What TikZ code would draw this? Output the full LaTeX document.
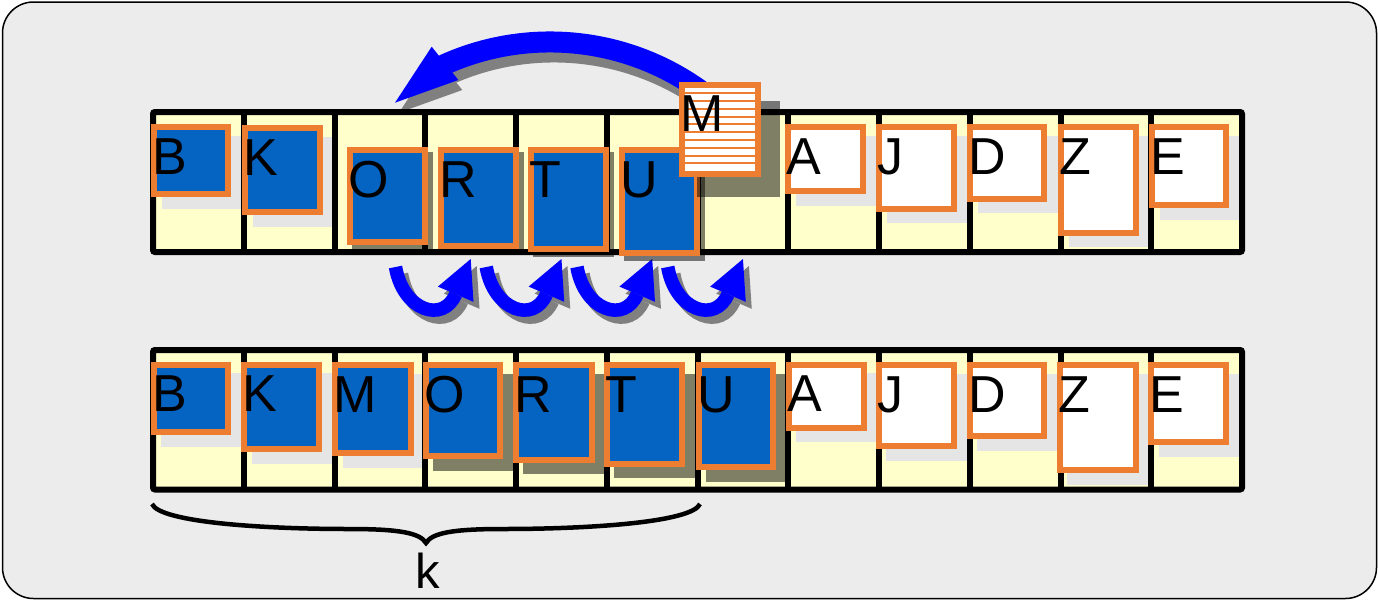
\documentclass[tikz,border=0pt]{standalone}
\usepackage{fontspec}
\setmainfont{Liberation Sans}
\definecolor{bgc}{HTML}{ECECEC}
\definecolor{cellc}{HTML}{FFFFCC}
\definecolor{cardblue}{HTML}{0563C1}
\definecolor{cardorange}{HTML}{ED7D31}
\definecolor{lshadow}{HTML}{E5E5E5}
\definecolor{arrowblue}{HTML}{0000FF}
\definecolor{arrowshadow}{HTML}{808080}
\tikzset{
  cardbox/.style={rectangle, draw=cardorange, line width=6pt, inner sep=0pt, outer sep=0pt},
  bluecard/.style={cardbox, fill=cardblue},
  whitecard/.style={cardbox, fill=white},
  letter/.style={anchor=base west, inner sep=0pt, outer sep=0pt, font=\fontsize{52}{52}\selectfont, text=black},
  lightshadow/.style={fill=lshadow},
  darkshadow/.style={fill=black, fill opacity=0.5},
  gridline/.style={draw=black, line width=6pt},
  cellfill/.style={fill=cellc},
  bigarrowbody/.style={line width=21pt},
  smallarrowbody/.style={line width=13.5pt},
  bracestyle/.style={draw=black, line width=4.5pt},
}
\newcommand\bigarrowshape[1]{%
  \draw[bigarrowbody, #1] (708.8,96.7) .. controls (633.7,38) and (532.6,25.5) .. (445.5,64.1) -- (440.8,67.8);
  \fill[#1] (431.7,46.7) -- (395,102.7) -- (458.3,80) -- cycle;}
\newcommand\smallarrowshape[1]{%
  \draw[smallarrowbody, #1] (395.5,267) .. controls (403.2,311.1) and (443.2,323.6) .. (455.7,294.2);
  \fill[#1] (437.9,286.6) -- (470.7,259) -- (473.5,301.8) -- cycle;}
\def\toprowlist{B/150.7/124/230.7/197/bluecard/lightshadow/11/11.5,
K/241.7/125/322.7/215/bluecard/lightshadow/11/11.5,
O/346.7/146.7/428/245/bluecard/darkshadow/5/5,
R/437.7/147/519/249/bluecard/darkshadow/5/5,
T/528/147/609/251.7/bluecard/darkshadow/5/5,
U/619/146.7/700/255.7/bluecard/darkshadow/5/5,
A/785/124/866.4/194/whitecard/lightshadow/11/11.5,
J/875.7/124/957/211.7/whitecard/lightshadow/11/11.5,
D/967/124/1047/201.7/whitecard/lightshadow/11/11.5,
Z/1058/124/1139/235.7/whitecard/lightshadow/11/11.5,
E/1149/124/1229/208/whitecard/lightshadow/11/11.5}
\def\botrowlist{B/150.5/361.7/231/435/bluecard/lightshadow/10.5/11.5,
K/241/361.7/322/452/bluecard/lightshadow/10.5/11.5,
M/332/362/413.6/456/bluecard/lightshadow/10.5/11.5,
O/423/362/503/459/bluecard/darkshadow/10/11.5,
R/513/362/594.5/462.7/bluecard/darkshadow/10/11.5,
T/604/362/685/466.7/bluecard/darkshadow/10/11.5,
U/695.5/362/775.5/470/bluecard/darkshadow/10/11.5,
A/785.7/361.7/866.7/430.7/whitecard/lightshadow/10.5/11.5,
J/875.7/362/957.3/449/whitecard/lightshadow/10.5/11.5,
D/966.7/362/1047/439/whitecard/lightshadow/10.5/11.5,
Z/1056.7/362/1139/473/whitecard/lightshadow/10.5/11.5,
E/1148/362/1229/445/whitecard/lightshadow/10.5/11.5}
\begin{document}
\begin{tikzpicture}[x=1pt,y=-1pt]
\useasboundingbox (0,0) rectangle (1378,600);
% frame
\node[draw=black, line width=1.5pt, fill=bgc, rounded corners=31pt, minimum width=1374pt, minimum height=596.5pt, inner sep=0pt] (frame) at (689.5,300.25) {};
% big arrow
\begin{scope}[shift={(4,10)}]
  \bigarrowshape{arrowshadow}
\end{scope}
\bigarrowshape{arrowblue}
% small arrows
\foreach \i in {0,1,2,3} {
  \begin{scope}[xshift=\i*90.75pt]
    \begin{scope}[shift={(6,7)}]
      \smallarrowshape{arrowshadow}
    \end{scope}
    \smallarrowshape{arrowblue}
  \end{scope}
}
% cell fills
\fill[cellfill] (153,112) rectangle (1242,252);
\fill[cellfill] (153,350) rectangle (1242,489.5);
% shadows
\foreach \n/\xa/\ya/\xb/\yb/\st/\sh/\dx/\dy in \toprowlist {
  \fill[\sh] ({\xa+\dx},{\ya+\dy}) rectangle ({\xb+\dx},{\yb+\dy});
}
\foreach \n/\xa/\ya/\xb/\yb/\st/\sh/\dx/\dy in \botrowlist {
  \fill[\sh] ({\xa+\dx},{\ya+\dy}) rectangle ({\xb+\dx},{\yb+\dy});
}
% grids
\draw[gridline, rounded corners=2pt] (153,112) rectangle (1242,252);
\draw[gridline, rounded corners=2pt] (153,350) rectangle (1242,489.5);
\foreach \i in {1,...,11} {
  \draw[gridline] ({153+\i*90.75},112) -- ({153+\i*90.75},252);
  \draw[gridline] ({153+\i*90.75},350) -- ({153+\i*90.75},489.5);
}
% cards
\foreach \n/\xa/\ya/\xb/\yb/\st/\sh/\dx/\dy in \toprowlist {
  \pgfmathsetmacro\cardcx{(\xa+\xb)/2}
  \pgfmathsetmacro\cardcy{(\ya+\yb)/2}
  \pgfmathsetmacro\cardw{\xb-\xa-6}
  \pgfmathsetmacro\cardh{\yb-\ya-6}
  \pgfmathsetmacro\cardtx{\xa+1.5}
  \pgfmathsetmacro\cardty{\ya+50.5}
  \node[\st, minimum width=\cardw pt, minimum height=\cardh pt] (top\n) at (\cardcx,\cardcy) {};
  \node[letter] (toptext\n) at (\cardtx,\cardty) {\n};
}
\foreach \n/\xa/\ya/\xb/\yb/\st/\sh/\dx/\dy in \botrowlist {
  \pgfmathsetmacro\cardcx{(\xa+\xb)/2}
  \pgfmathsetmacro\cardcy{(\ya+\yb)/2}
  \pgfmathsetmacro\cardw{\xb-\xa-6}
  \pgfmathsetmacro\cardh{\yb-\ya-6}
  \pgfmathsetmacro\cardtx{\xa+1.5}
  \pgfmathsetmacro\cardty{\ya+50}
  \node[\st, minimum width=\cardw pt, minimum height=\cardh pt] (bot\n) at (\cardcx,\cardcy) {};
  \node[letter] (bottext\n) at (\cardtx,\cardty) {\n};
}
% moving card M
\fill[darkshadow] (696.7,100.7) rectangle (780,196.7);
\node[whitecard, minimum width=75.4pt, minimum height=89pt] (topM) at (720,129.8) {};
\foreach \k in {0,...,9} {
  \draw[cardorange, line width=2pt] (685.3,{93.4+7.77*\k}) -- (754.7,{93.4+7.77*\k});
}
\node[letter] (toptextM) at (680.8,131.7) {M};
% brace
\draw[bracestyle] (152,504) .. controls (160,522) and (260,529) .. (349,529) .. controls (400,529) and (420,533) .. (426,543) .. controls (432,533) and (452,529) .. (503,529) .. controls (592,529) and (692,522) .. (700,504);
\node[letter, anchor=base, font=\fontsize{49}{49}\selectfont] (klabel) at (428,588.5) {k};
\end{tikzpicture}
\end{document}
